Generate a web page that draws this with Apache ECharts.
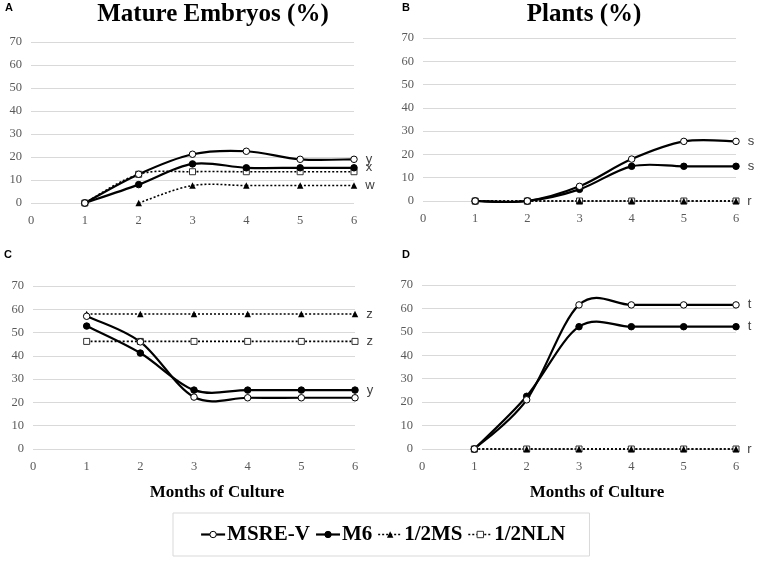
<!DOCTYPE html>
<html><head><meta charset="utf-8">
<script src="https://cdn.jsdelivr.net/npm/echarts@6/dist/echarts.min.js"></script>
<style>html,body{margin:0;padding:0;background:#fff}#c{width:758px;height:566px}</style>
</head><body><div id="c"></div>
<script>
const months = [1, 2, 3, 4, 5, 6];
const seriesNames = ['MSRE-V', 'M6', '1/2MS', '1/2NLN'];
const panelTitles = ['Mature Embryos (%)', 'Plants (%)'];
const xAxisTitle = 'Months of Culture';
const panelLetters = ['A', 'B', 'C', 'D'];

// Panel A: mature embryos
const embryosMSREV = [0, 12.5, 21.2, 22.5, 19, 19];
const embryosM6 = [0, 8, 17, 15.3, 15.3, 15.3];
const embryosMS = [null, 0, 7.6, 7.6, 7.6, 7.6];
const embryosNLN = [0, 12.5, 13.6, 13.6, 13.6, 13.6];
const embryosLetters = ['y', 'x', 'w', ''];
// Panel B: plants
const plantsMSREV = [0, 0, 6.3, 18, 25.6, 25.6];
const plantsM6 = [0, 0, 5, 14.9, 14.9, 14.9];
const plantsMS = [0, 0, 0, 0, 0, 0];
const plantsNLN = [0, 0, 0, 0, 0, 0];
const plantsLetters = ['s', 's', 'r', ''];
// Panel C
const cMSREV = [57, 46, 22.3, 22, 22, 22];
const cM6 = [52.8, 41.2, 25.3, 25.3, 25.3, 25.3];
const cMS = [58, 58, 58, 58, 58, 58];
const cNLN = [46.2, 46.2, 46.2, 46.2, 46.2, 46.2];
const cLetters = ['', 'y', 'z', 'z'];
// Panel D
const dMSREV = [0, 21, 61.5, 61.5, 61.5, 61.5];
const dM6 = [0, 22.5, 52.2, 52.2, 52.2, 52.2];
const dMS = [0, 0, 0, 0, 0, 0];
const dNLN = [0, 0, 0, 0, 0, 0];
const dLetters = ['t', 't', 'r', ''];

const panels = [
  {vals: [embryosMSREV, embryosM6, embryosMS, embryosNLN], letters: embryosLetters},
  {vals: [plantsMSREV, plantsM6, plantsMS, plantsNLN], letters: plantsLetters},
  {vals: [cMSREV, cM6, cMS, cNLN], letters: cLetters},
  {vals: [dMSREV, dM6, dMS, dNLN], letters: dLetters}
];

const grids = [
  {left: 31, top: 42, width: 323, height: 161},
  {left: 423, top: 38, width: 313, height: 163},
  {left: 33, top: 286, width: 322, height: 163},
  {left: 422, top: 285, width: 314, height: 164}
];

const serif = '"Liberation Serif", "Times New Roman", serif';
const sans = '"Liberation Sans", Arial, sans-serif';

const styles = [
  {symbol: 'circle', symbolSize: 6.5, itemStyle: {color: '#fff', borderColor: '#000', borderWidth: 1}, line: {color: '#000', width: 2.2, dash: null, type: 'solid'}},
  {symbol: 'circle', symbolSize: 6.5, itemStyle: {color: '#000', borderColor: '#000', borderWidth: 1}, line: {color: '#000', width: 2.2, dash: null, type: 'solid'}},
  {symbol: 'triangle', symbolSize: 6.5, itemStyle: {color: '#000', borderColor: '#000', borderWidth: 0}, line: {color: '#000', width: 1.6, dash: [2, 2], type: [2, 2]}},
  {symbol: 'rect', symbolSize: 6, itemStyle: {color: '#fff', borderColor: '#333', borderWidth: 1}, line: {color: '#000', width: 1.6, dash: [2, 2], type: [2, 2]}}
];

// Smoothed curve (Excel-like Catmull-Rom Bezier) drawn through the axes' own coordinate mapping
function curveSeries(pts, gi, st, name) {
  const valid = pts.filter(p => p[1] != null);
  return {
    type: 'custom', name: name + ' (curve)', xAxisIndex: gi, yAxisIndex: gi, z: 2,
    silent: true, clip: false,
    data: valid,
    encode: {x: 0, y: 1},
    renderItem: function (params, api) {
      const i = params.dataIndex;
      if (i >= valid.length - 1) return null;
      const P = valid.map(v => api.coord(v));
      const p0 = P[Math.max(i - 1, 0)], p1 = P[i], p2 = P[i + 1], p3 = P[Math.min(i + 2, P.length - 1)];
      const c1 = [p1[0] + (p2[0] - p0[0]) / 6, p1[1] + (p2[1] - p0[1]) / 6];
      const c2 = [p2[0] - (p3[0] - p1[0]) / 6, p2[1] - (p3[1] - p1[1]) / 6];
      return {
        type: 'bezierCurve',
        shape: {x1: p1[0], y1: p1[1], x2: p2[0], y2: p2[1], cpx1: c1[0], cpy1: c1[1], cpx2: c2[0], cpy2: c2[1]},
        style: {stroke: st.line.color, lineWidth: st.line.width, lineDash: st.line.dash, fill: 'none'}
      };
    }
  };
}

const xAxes = [], yAxes = [], series = [];
panels.forEach((p, gi) => {
  xAxes.push({
    type: 'value', gridIndex: gi, min: 0, max: 6, interval: 1,
    axisLine: {show: false}, axisTick: {show: false}, splitLine: {show: false},
    axisLabel: {color: '#595959', fontFamily: serif, fontSize: 12.5, margin: 11}
  });
  yAxes.push({
    type: 'value', gridIndex: gi, min: 0, max: 70, interval: 10,
    axisLine: {show: false}, axisTick: {show: false},
    splitLine: {lineStyle: {color: '#d9d9d9', width: 1}},
    axisLabel: {color: '#595959', fontFamily: serif, fontSize: 12.5, margin: 9}
  });
  p.vals.forEach((v, si) => {
    const st = styles[si];
    const pts = months.map((m, i) => [m, v[i]]);
    series.push(curveSeries(pts, gi, st, seriesNames[si]));
  });
  p.vals.forEach((v, si) => {
    const st = styles[si];
    const letter = p.letters[si];
    const pts = months.map((m, i) => [m, v[i]]);
    const last = pts.length - 1;
    series.push({
      type: 'line', name: seriesNames[si], xAxisIndex: gi, yAxisIndex: gi,
      data: pts,
      symbol: st.symbol, symbolSize: st.symbolSize, showSymbol: true,
      itemStyle: st.itemStyle, lineStyle: {opacity: 0, width: 0},
      z: 10 - si,
      label: {
        show: !!letter, position: 'right', distance: 8,
        color: '#404040', fontFamily: sans, fontSize: 13,
        formatter: (q) => (q.dataIndex === last ? letter : '')
      },
      emphasis: {disabled: true}
    });
  });
});

const graphic = [
  {type: 'text', x: 5, y: 8, style: {text: panelLetters[0], font: 'bold 11px ' + sans, fill: '#000', verticalAlign: 'middle'}},
  {type: 'text', x: 402, y: 8, style: {text: panelLetters[1], font: 'bold 11px ' + sans, fill: '#000', verticalAlign: 'middle'}},
  {type: 'text', x: 4, y: 255, style: {text: panelLetters[2], font: 'bold 11px ' + sans, fill: '#000', verticalAlign: 'middle'}},
  {type: 'text', x: 402, y: 255, style: {text: panelLetters[3], font: 'bold 11px ' + sans, fill: '#000', verticalAlign: 'middle'}},
  {type: 'text', x: 213, y: 15, style: {text: panelTitles[0], font: 'bold 25px ' + serif, fill: '#000', align: 'center', verticalAlign: 'middle'}},
  {type: 'text', x: 584, y: 15, style: {text: panelTitles[1], font: 'bold 25px ' + serif, fill: '#000', align: 'center', verticalAlign: 'middle'}},
  {type: 'text', x: 217, y: 493, style: {text: xAxisTitle, font: 'bold 17px ' + serif, fill: '#000', align: 'center', verticalAlign: 'middle'}},
  {type: 'text', x: 597, y: 493, style: {text: xAxisTitle, font: 'bold 17px ' + serif, fill: '#000', align: 'center', verticalAlign: 'middle'}}
];

const legendData = seriesNames.map((n, si) => ({
  name: n,
  lineStyle: {color: '#000', width: styles[si].line.width, type: styles[si].line.type, opacity: 1},
  itemStyle: styles[si].itemStyle
}));

const chart = echarts.init(document.getElementById('c'), null, {renderer: 'canvas'});
chart.setOption({
  animation: false,
  backgroundColor: '#fff',
  grid: grids,
  xAxis: xAxes,
  yAxis: yAxes,
  series: series,
  graphic: graphic,
  legend: {
    data: legendData,
    left: 173, top: 513,
    padding: [11, 24, 11, 27],
    borderColor: '#d9d9d9', borderWidth: 1,
    itemWidth: 24, itemHeight: 8, itemGap: 5,
    textStyle: {fontFamily: serif, fontWeight: 'bold', fontSize: 21, color: '#000', padding: [0, 0, 0, -3]},
    selectedMode: false
  }
});
</script></body></html>
